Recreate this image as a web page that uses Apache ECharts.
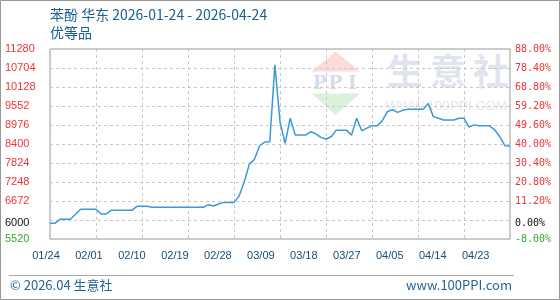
<!DOCTYPE html>
<html><head><meta charset="utf-8">
<script src="https://cdn.jsdelivr.net/npm/echarts@6/dist/echarts.min.js"></script>
<style>html,body{margin:0;padding:0;background:#fff}#c{width:560px;height:300px}</style>
</head><body><div id="c"></div>
<script>
// ---- data ----
const startDate = '2026-01-24';
const dayCount = 91;
const xLabels = ['01/24','02/01','02/10','02/19','02/28','03/09','03/18','03/27','04/05','04/14','04/23'];
const prices = [
  6000,6000,6120,6120,6120,6270,6420,6420,6420,6420,
  6280,6280,6390,6390,6390,6390,6390,6510,6510,6510,
  6480,6480,6480,6480,6480,6480,6480,6480,6480,6480,
  6480,6560,6520,6580,6630,6630,6630,6820,7250,7790,
  7935,8340,8460,8470,10800,9070,8420,9180,8670,8670,
  8670,8770,8710,8600,8550,8620,8820,8820,8820,8670,
  9180,8800,8880,8950,8950,9100,9380,9440,9360,9420,
  9450,9450,9450,9450,9630,9230,9180,9130,9130,9130,
  9180,9180,8910,8980,8950,8950,8950,8830,8620,8350,
  8340
];
const basePrice = 6000;
const leftTicks = [5520, 6000, 6672, 7248, 7824, 8400, 8976, 9552, 10128, 10704, 11280];
const rightTicks = [-8, 0, 11.2, 20.8, 30.4, 40, 49.6, 59.2, 68.8, 78.4, 88];
const labelSlots = [0,1,2,3,4,5,6,7,8,9,10];

// categories (daily dates)
const dates = [];
{
  const d0 = new Date(startDate + 'T00:00:00Z');
  for (let i = 0; i < dayCount; i++) {
    const d = new Date(d0.getTime() + i * 86400000);
    dates.push(d.toISOString().slice(0, 10));
  }
}

const RED = '#ee3535', GREEN = '#33aa33', BLACK = '#111';
const chart = echarts.init(document.getElementById('c'), null, {renderer: 'canvas'});
const gridLeft = 50, gridRight = 50, gridTop = 49, gridBottom = 61;
const plotW = 560 - gridLeft - gridRight;
const labelPitch = 42.97;

chart.setOption({
  animation: false,
  grid: {left: gridLeft, right: gridRight, top: gridTop, bottom: gridBottom, show: true,
         borderColor: '#999', borderWidth: 1, backgroundColor: 'transparent'},
  xAxis: [{
    type: 'category', data: dates, boundaryGap: false,
    axisLine: {show: false}, axisTick: {show: false}, axisLabel: {show: false},
    splitLine: {show: true, interval: 8, lineStyle: {color: '#c8c8c8', type: [3, 3], width: 1}}
  }, {
    type: 'value', min: 0, max: plotW / labelPitch, position: 'bottom',
    axisLine: {show: false}, axisTick: {show: false}, splitLine: {show: false},
    axisLabel: {
      customValues: labelSlots, margin: 11, padding: [0, 8, 0, 0],
      fontSize: 11, fontFamily: 'Liberation Sans', color: '#134f7c',
      formatter: v => xLabels[Math.round(v)]
    }
  }],
  yAxis: [{
    type: 'value', min: 5520, max: 11280, interval: 576, position: 'left',
    axisLine: {show: false}, axisTick: {show: false},
    splitLine: {show: true, lineStyle: {color: '#c8c8c8', type: [3, 3], width: 1}},
    axisLabel: {
      customValues: leftTicks, align: 'left', margin: 45,
      fontSize: 11, fontFamily: 'Liberation Sans',
      color: v => (v > basePrice ? RED : (v < basePrice ? GREEN : BLACK)),
      formatter: v => String(v)
    }
  }, {
    type: 'value', min: -8, max: 88, interval: 9.6, position: 'right',
    axisLine: {show: false}, axisTick: {show: false}, splitLine: {show: false},
    axisLabel: {
      customValues: rightTicks, margin: 5,
      fontSize: 10, fontFamily: 'DejaVu Sans Mono',
      color: v => (v > 0.0001 ? RED : (v < -0.0001 ? GREEN : BLACK)),
      formatter: v => (Math.abs(v) < 1e-9 ? 0 : v).toFixed(2) + '%'
    }
  }],
  series: [{
    type: 'line', data: prices, xAxisIndex: 0, yAxisIndex: 0,
    showSymbol: false, symbol: 'none', smooth: false, z: 5,
    lineStyle: {color: '#3b99d8', width: 1.5}
  }],
  graphic: [
    // watermark
    {type: 'polygon', z: 0, silent: true, shape: {points: [[335.7, 51.5], [311.5, 71.5], [360, 71.5]]}, style: {fill: '#fadcdc'}},
    {type: 'polygon', z: 0, silent: true, shape: {points: [[311.5, 93.5], [360, 93.5], [335.7, 115]]}, style: {fill: '#dcf1dc'}},
    {type: 'text', z: 0, silent: true, style: {text: 'P', x: 320, y: 84, fontSize: 19, fontWeight: 'bold', fontFamily: 'DejaVu Serif', fill: '#d6dcea', align: 'center', verticalAlign: 'middle'}},
    {type: 'text', z: 0, silent: true, style: {text: 'P', x: 335.5, y: 84, fontSize: 19, fontWeight: 'bold', fontFamily: 'DejaVu Serif', fill: '#d6dcea', align: 'center', verticalAlign: 'middle'}},
    {type: 'text', z: 0, silent: true, style: {text: 'I', x: 352.5, y: 84, fontSize: 19, fontWeight: 'bold', fontFamily: 'DejaVu Serif', fill: '#d6dcea', align: 'center', verticalAlign: 'middle'}},
    {type: 'text', z: 0, silent: true, style: {text: '生', x: 405, y: 71, fontSize: 36, fontWeight: 'bold', fontFamily: 'Noto Sans CJK SC', fill: '#dfe4ee', align: 'center', verticalAlign: 'middle'}},
    {type: 'text', z: 0, silent: true, style: {text: '意', x: 448, y: 71, fontSize: 36, fontWeight: 'bold', fontFamily: 'Noto Sans CJK SC', fill: '#dfe4ee', align: 'center', verticalAlign: 'middle'}},
    {type: 'text', z: 0, silent: true, style: {text: '社', x: 491, y: 71, fontSize: 36, fontWeight: 'bold', fontFamily: 'Noto Sans CJK SC', fill: '#dfe4ee', align: 'center', verticalAlign: 'middle'}},
    {type: 'text', z: 0, silent: true, style: {text: 'WWW.100PPI.COM', x: 446.5, y: 106.5, fontSize: 13.5, fontFamily: 'Liberation Sans', fill: '#e6e6e6', align: 'center', verticalAlign: 'middle'}},
    // titles
    {type: 'text', style: {text: '苯酚 华东 2026-01-24 - 2026-04-24', x: 50, y: 15, fontSize: 14, fontFamily: 'Noto Sans CJK SC', fill: '#17608f', verticalAlign: 'middle'}},
    {type: 'text', style: {text: '优等品', x: 50, y: 33, fontSize: 14, fontFamily: 'Noto Sans CJK SC', fill: '#17608f', verticalAlign: 'middle'}},
    // footer
    {type: 'line', shape: {x1: 9, y1: 275.5, x2: 514, y2: 275.5}, style: {stroke: '#aaa', lineWidth: 1}},
    {type: 'text', style: {text: '© 2026.04 生意社', x: 10, y: 285, fontSize: 13, fontFamily: 'Noto Sans CJK SC', fill: '#23669a', verticalAlign: 'middle'}},
    {type: 'text', style: {text: 'www.100PPI.com', x: 512, y: 285, fontSize: 13, fontFamily: 'Noto Sans CJK SC', fill: '#23669a', align: 'right', verticalAlign: 'middle'}},
    // outer frame
    {type: 'rect', shape: {x: 0.5, y: 0.5, width: 559, height: 299}, style: {fill: 'none', stroke: '#999', lineWidth: 1}}
  ]
});
</script></body></html>
